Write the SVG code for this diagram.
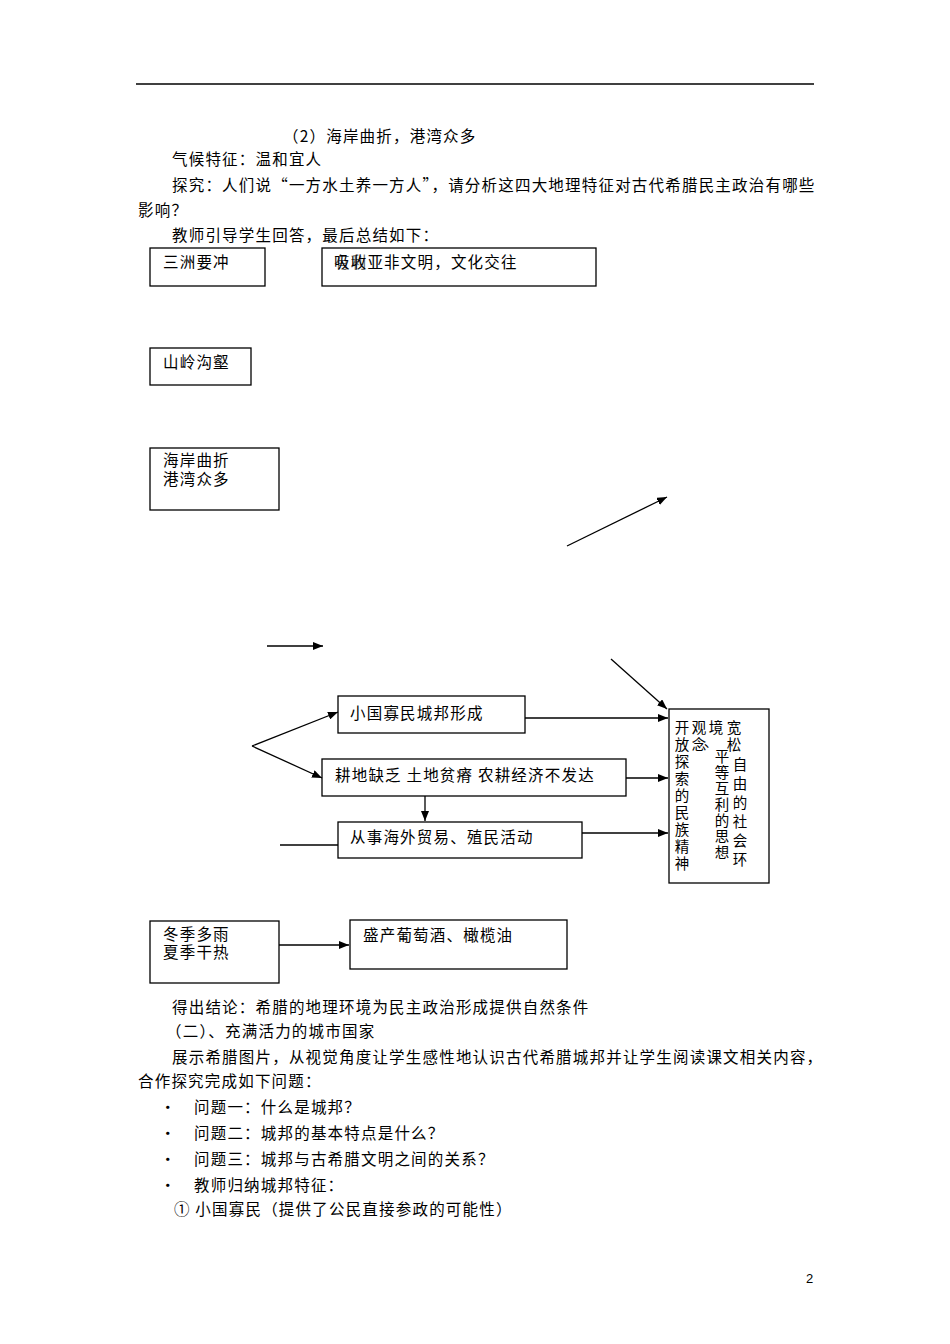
<svg xmlns="http://www.w3.org/2000/svg" width="950" height="1344" viewBox="0 0 950 1344">
<defs><marker id="ah" markerWidth="10" markerHeight="8" refX="10" refY="4" orient="auto" markerUnits="userSpaceOnUse"><path d="M0,0 L10,4 L0,8 z" fill="#000"/></marker></defs>
<style>
text{font-family:"Noto Sans CJK SC","Liberation Serif",serif;font-size:15.5px;letter-spacing:1.2px;fill:#000}
.b{fill:none;stroke:#000;stroke-width:1.3}
.c{stroke:#000;stroke-width:1.3;fill:none}
.v text{font-size:14.5px;letter-spacing:0;text-anchor:middle}
</style>
<rect width="950" height="1344" fill="#fff"/>
<line x1="136" y1="84" x2="814" y2="84" stroke="#000" stroke-width="1.3"/>
<text x="283" y="142">（2）海岸曲折，港湾众多</text>
<text x="172" y="165">气候特征：温和宜人</text>
<text x="172" y="191">探究：人们说“一方水土养一方人”，请分析这四大地理特征对古代希腊民主政治有哪些</text>
<text x="138" y="216">影响？</text>
<text x="172" y="241">教师引导学生回答，最后总结如下：</text>
<g id="n1"><rect class="b" x="150" y="248" width="115" height="38"/><text x="163" y="268">三洲要冲</text></g>
<g id="n2"><rect class="b" x="322" y="248" width="274" height="38"/><text x="334" y="268" opacity="0.6">有利</text><text x="334" y="268">吸收亚非文明，文化交往</text></g>
<g id="n3"><rect class="b" x="150" y="348" width="101" height="37"/><text x="163" y="368">山岭沟壑</text></g>
<g id="n4"><rect class="b" x="150" y="448" width="129" height="62"/><text x="163" y="466">海岸曲折</text><text x="163" y="485">港湾众多</text></g>
<g id="n5"><rect class="b" x="338" y="696" width="187" height="37"/><text x="350" y="719">小国寡民城邦形成</text></g>
<g id="n6"><rect class="b" x="322" y="759" width="304" height="37"/><text x="335" y="781">耕地缺乏  土地贫瘠  农耕经济不发达</text></g>
<g id="n7"><rect class="b" x="338" y="822" width="244" height="36"/><text x="350" y="843">从事海外贸易、殖民活动</text></g>
<g id="n8"><rect class="b" x="669" y="709" width="100" height="174"/>
<g class="v">
<text x="682" y="733">开</text><text x="682" y="750">放</text><text x="682" y="767">探</text><text x="682" y="784">索</text><text x="682" y="801">的</text><text x="682" y="818">民</text><text x="682" y="835">族</text><text x="682" y="852">精</text><text x="682" y="869">神</text>
<text x="699" y="733">观</text><text x="699" y="750">念</text>
<text x="716" y="733">境</text><text x="711" y="747">、</text><text x="722" y="762">平</text><text x="722" y="778">等</text><text x="722" y="794">互</text><text x="722" y="810">利</text><text x="722" y="826">的</text><text x="722" y="842">思</text><text x="722" y="858">想</text>
<text x="734" y="733">宽</text><text x="734" y="750">松</text><text x="740" y="770">自</text><text x="740" y="789">由</text><text x="740" y="808">的</text><text x="740" y="827">社</text><text x="740" y="846">会</text><text x="740" y="865">环</text>
</g></g>
<g id="n9"><rect class="b" x="150" y="921" width="129" height="62"/><text x="163" y="940">冬季多雨</text><text x="163" y="958">夏季干热</text></g>
<g id="n10"><rect class="b" x="350" y="920" width="217" height="49"/><text x="363" y="941">盛产葡萄酒、橄榄油</text></g>
<g id="connectors">
<line class="c" x1="567" y1="546" x2="667" y2="497" marker-end="url(#ah)"/>
<line class="c" x1="267" y1="646" x2="323" y2="646" marker-end="url(#ah)"/>
<line class="c" x1="611" y1="659" x2="667" y2="709" marker-end="url(#ah)"/>
<line class="c" x1="252" y1="746" x2="338" y2="712" marker-end="url(#ah)"/>
<line class="c" x1="252" y1="746" x2="322" y2="778" marker-end="url(#ah)"/>
<line class="c" x1="525" y1="718" x2="668" y2="718" marker-end="url(#ah)"/>
<line class="c" x1="626" y1="778" x2="668" y2="778" marker-end="url(#ah)"/>
<line class="c" x1="582" y1="833" x2="668" y2="833" marker-end="url(#ah)"/>
<line class="c" x1="425" y1="796" x2="425" y2="821" marker-end="url(#ah)"/>
<line class="c" x1="280" y1="845" x2="338" y2="845"/>
<line class="c" x1="279" y1="945" x2="349" y2="945" marker-end="url(#ah)"/>
</g>
<text x="172" y="1013">得出结论：希腊的地理环境为民主政治形成提供自然条件</text>
<text x="166" y="1037">（二）、充满活力的城市国家</text>
<text x="172" y="1063">展示希腊图片，从视觉角度让学生感性地认识古代希腊城邦并让学生阅读课文相关内容，</text>
<text x="138" y="1087">合作探究完成如下问题：</text>
<text x="160" y="1113">•</text><text x="194" y="1113">问题一：什么是城邦？</text>
<text x="160" y="1139">•</text><text x="194" y="1139">问题二：城邦的基本特点是什么？</text>
<text x="160" y="1165">•</text><text x="194" y="1165">问题三：城邦与古希腊文明之间的关系？</text>
<text x="160" y="1191">•</text><text x="194" y="1191">教师归纳城邦特征：</text>
<text x="174" y="1215">① 小国寡民（提供了公民直接参政的可能性）</text>
<text x="806" y="1283" style="font-family:'Liberation Sans',sans-serif;font-size:13px;letter-spacing:0">2</text>
</svg>
